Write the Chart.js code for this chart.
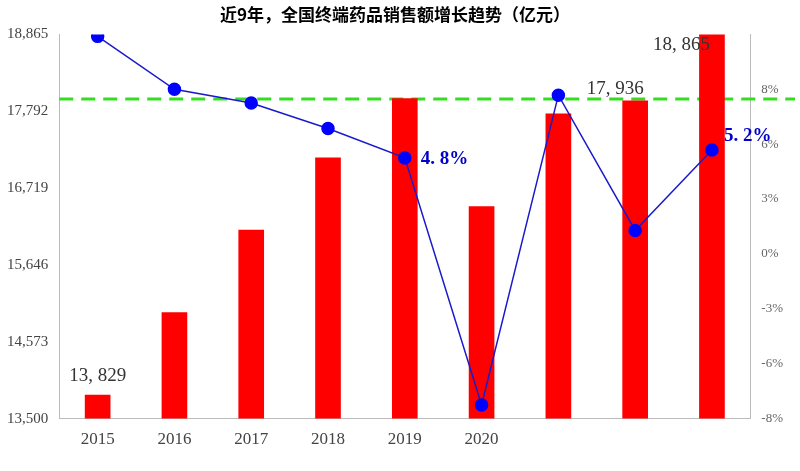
<!DOCTYPE html>
<html><head><meta charset="utf-8">
<script src="https://cdn.jsdelivr.net/npm/chart.js@4"></script>
<style>body{margin:0;background:#fff}#w{width:800px;height:471px}</style>
</head><body><div id="w"><canvas id="c"></canvas></div>
<script>
const years=['2015','2016','2017','2018','2019','2020','2021','2022','2023'];
const sales=[13829,14980,16133,17143,17968,16460,17755,17936,18865];
const growth=[11.1,8.4,7.7,6.4,4.9,-7.7,8.1,1.2,5.3];
const leftTicks=[13500,14573,15646,16719,17792,18865];
const refLine=7.9;
const serif="'Liberation Serif','DejaVu Serif',serif";
const labelsPlugin={id:'lbl',
 beforeDatasetsDraw(ch){const c=ch.ctx,y=ch.scales.y1.getPixelForValue(refLine);
  c.save();c.strokeStyle='#33dd22';c.lineWidth=3;c.setLineDash([14,8]);
  c.beginPath();c.moveTo(ch.chartArea.left,y);c.lineTo(795,y);c.stroke();c.restore();},
 afterDatasetsDraw(ch){
 const c=ch.ctx,b=ch.getDatasetMeta(0).data,p=ch.getDatasetMeta(1).data;
 c.save();c.font="19px "+serif;c.fillStyle='#333';c.textAlign='center';c.textBaseline='bottom';
 c.fillText('13, 829',b[0].x,b[0].y-10);
 c.fillText('17, 936',b[7].x-20,b[7].y-2);
 c.textAlign='right';c.fillText('18, 865',b[8].x-2,b[8].y+20);
 c.font="bold 19px "+serif;c.fillStyle='#0000cc';c.textAlign='left';c.textBaseline='middle';
 c.fillText('4. 8%',p[4].x+16,p[4].y+1);
 c.fillText('5. 2%',p[8].x+12,p[8].y-14);
 c.restore();}};
new Chart(document.getElementById('c'),{
 data:{labels:years,datasets:[
  {type:'bar',data:sales,backgroundColor:'#ff0000',barThickness:25,yAxisID:'y',order:3},
  {type:'line',data:growth,borderColor:'#1a1acc',borderWidth:1.5,pointRadius:6,pointBackgroundColor:'#0000ff',pointBorderColor:'#0000ff',yAxisID:'y1',order:1,tension:0}
 ]},
 plugins:[labelsPlugin],
 options:{responsive:true,maintainAspectRatio:false,animation:false,
  layout:{padding:{left:4,right:14,top:0,bottom:18}},
  plugins:{legend:{display:false},tooltip:{enabled:false},
   title:{display:true,text:'近9年，全国终端药品销售额增长趋势（亿元）',color:'#000',font:{family:"'Noto Sans CJK SC'",size:17,weight:'bold'},padding:{top:4,bottom:10}}},
  scales:{
   x:{offset:true,grid:{display:false},border:{color:'#bbb'},
      ticks:{color:'#444',font:{family:serif,size:17},callback:(v,i)=>i<6?years[i]:''}},
   y:{min:13500,max:18865,afterBuildTicks:a=>{a.ticks=leftTicks.map(v=>({value:v}))},
      grid:{display:false},border:{color:'#bbb'},
      ticks:{color:'#444',font:{family:serif,size:15},callback:v=>v.toLocaleString('en-US')}},
   y1:{position:'right',min:-8.4,max:11.2,afterBuildTicks:a=>{a.ticks=[-8.4,-5.6,-2.8,0,2.8,5.6,8.4].map(v=>({value:v}))},
      grid:{display:false},border:{color:'#bbb'},
      ticks:{color:'#666',font:{family:serif,size:13},callback:v=>Math.round(v)+'%'}}
  }}
});
</script></body></html>
